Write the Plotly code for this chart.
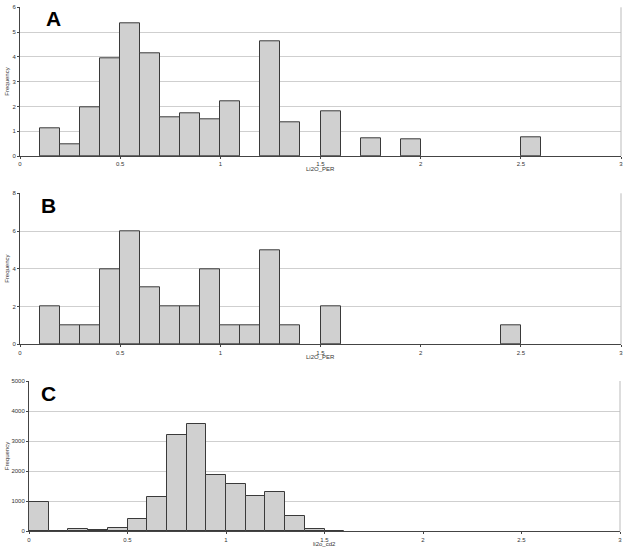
import plotly.graph_objects as go

# ---- data ----
bin_width = 0.1
a_left = [0.1, 0.2, 0.3, 0.4, 0.5, 0.6, 0.7, 0.8, 0.9, 1.0, 1.2, 1.3, 1.5, 1.7, 1.9, 2.5]
a_freq = [1.1, 0.47, 1.97, 3.94, 5.34, 4.15, 1.57, 1.72, 1.49, 2.19, 4.62, 1.37, 1.79, 0.71, 0.67, 0.75]

b_left = [0.1, 0.2, 0.3, 0.4, 0.5, 0.6, 0.7, 0.8, 0.9, 1.0, 1.1, 1.2, 1.3, 1.5, 2.4]
b_freq = [2, 1, 1, 4, 6, 3, 2, 2, 4, 1, 1, 5, 1, 2, 1]

c_left = [0.0, 0.1, 0.2, 0.3, 0.4, 0.5, 0.6, 0.7, 0.8, 0.9, 1.0, 1.1, 1.2, 1.3, 1.4, 1.5]
c_freq = [985, 10, 65, 58, 95, 400, 1127, 3214, 3583, 1886, 1574, 1183, 1306, 513, 90, 20]

x_ticks = [0, 0.5, 1, 1.5, 2, 2.5, 3]
x_tick_text = ["0", "0.5", "1", "1.5", "2", "2.5", "3"]
a_yticks = [0, 1, 2, 3, 4, 5, 6]
b_yticks = [0, 2, 4, 6, 8]
c_yticks = [0, 1000, 2000, 3000, 4000, 5000]

panels = [
    dict(left=a_left, freq=a_freq, yticks=a_yticks, ymax=6, xtitle="Li2O_PER", label="A"),
    dict(left=b_left, freq=b_freq, yticks=b_yticks, ymax=8, xtitle="Li2O_PER", label="B"),
    dict(left=c_left, freq=c_freq, yticks=c_yticks, ymax=5000, xtitle="li2o_cd2", label="C"),
]

W, H = 624, 549
# plot-area boxes in pixels: (left, right, top, bottom)
boxes = [(20, 621, 7.3, 156), (20, 621, 193.3, 344.3), (29, 620, 381, 531.3)]
label_pos = [(53, 18), (48, 205.5), (48, 393)]

fig = go.Figure()
tick_font = dict(family="Liberation Sans, Arial", size=6, color="#333333")
small_font = dict(family="Liberation Sans, Arial", size=6, color="#333333")
for i, (p, (l, r, t, b), (lx, ly)) in enumerate(zip(panels, boxes, label_pos)):
    n = "" if i == 0 else str(i + 1)
    xa, ya = "x" + n, "y" + n
    fig.add_trace(go.Bar(
        x=p["left"], y=p["freq"], width=bin_width, offset=0,
        marker=dict(color="#d0d0d0", line=dict(color="#3a3a3a", width=1)),
        xaxis=xa, yaxis=ya, showlegend=False, hoverinfo="skip",
    ))
    xd = [l / W, r / W]
    yd = [1 - b / H, 1 - t / H]
    fig.update_layout(**{
        "xaxis" + n: dict(domain=xd, range=[0, 3], anchor=ya, tickvals=x_ticks,
                          ticktext=x_tick_text, showgrid=False, zeroline=False,
                          showline=True, linecolor="#444444", linewidth=1,
                          ticks="outside", ticklen=2, tickcolor="#444444",
                          tickfont=tick_font, automargin=False),
        "yaxis" + n: dict(domain=yd, range=[0, p["ymax"]], anchor=xa, tickvals=p["yticks"],
                          showgrid=True, gridcolor="#cfcfcf", gridwidth=1, zeroline=False,
                          showline=True, linecolor="#444444", linewidth=1,
                          ticks="outside", ticklen=2, tickcolor="#444444",
                          tickfont=tick_font, automargin=False),
    })
    # right border
    fig.add_shape(type="line", xref=xa + " domain", yref=ya + " domain",
                  x0=1, x1=1, y0=0, y1=1, line=dict(color="#bbbbbb", width=1))
    # y title
    fig.add_annotation(text="Frequency", textangle=-90, xref="paper", yref="paper",
                       x=7 / W, y=1 - (t + b) / 2 / H, showarrow=False,
                       xanchor="center", yanchor="middle", font=small_font)
    # x title
    fig.add_annotation(text=p["xtitle"], xref="paper", yref="paper",
                       x=(l + r) / 2 / W, y=1 - (b + 13) / H, showarrow=False,
                       xanchor="center", yanchor="middle", font=small_font)
    # panel label
    fig.add_annotation(text="<b>" + p["label"] + "</b>", xref="paper", yref="paper",
                       x=lx / W, y=1 - ly / H, showarrow=False,
                       xanchor="center", yanchor="middle",
                       font=dict(family="Liberation Sans, Arial", size=21, color="#000000"))

fig.update_layout(width=W, height=H, margin=dict(l=0, r=0, t=0, b=0),
                  paper_bgcolor="white", plot_bgcolor="white", bargap=0,
                  hovermode=False)
fig.write_html("out.html", config={"displayModeBar": False},
               post_script="document.body.style.margin='0px';")
